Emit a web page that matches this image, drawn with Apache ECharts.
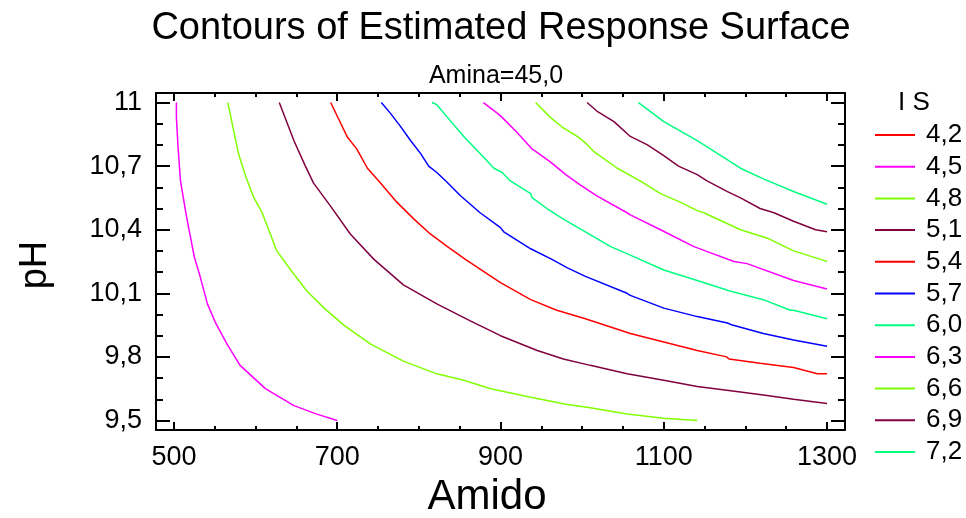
<!DOCTYPE html>
<html>
<head>
<meta charset="utf-8">
<script src="https://cdn.jsdelivr.net/npm/echarts@6/dist/echarts.min.js"></script>
<style>
html,body{margin:0;padding:0;background:#fff;}
#chart{width:966px;height:518px;}
</style>
</head>
<body>
<div id="chart"></div>
<script>
// ---- data ----
const levelNames = ['4,2','4,5','4,8','5,1','5,4','5,7','6,0','6,3','6,6','6,9','7,2'];
const levelColors = ['#ff0000','#ff00ff','#80ff00','#800040','#ff0000','#0000ff','#00ff80','#ff00ff','#80ff00','#800040','#00ff80'];

const xMajorTicks = [500,700,900,1100,1300];
const xMinorTicks = [550,600,650,750,800,850,950,1000,1050,1150,1200,1250];
const yMajorTicks = [9.5,9.8,10.1,10.4,10.7,11];
const yMinorTicks = [9.6,9.7,9.9,10.0,10.2,10.3,10.5,10.6,10.8,10.9];

const is42 = [];
const is45 = [[503,11.0],[503,10.93],[505,10.79],[508,10.63],[515,10.47],[520,10.37],[525,10.27],[532,10.18],[541,10.05],[551,9.96],[565,9.86],[581,9.76],[612,9.65],[647,9.57],[675,9.53],[700,9.5]];
const is48 = [[566,11.0],[573,10.87],[579,10.76],[588,10.65],[598,10.55],[608,10.48],[616,10.40],[626,10.30],[643,10.21],[663,10.11],[684,10.03],[708,9.95],[741,9.86],[781,9.78],[822,9.72],[855,9.69],[888,9.65],[937,9.61],[982,9.575],[1010,9.56],[1055,9.53],[1100,9.51],[1141,9.5]];
const is51 = [[629,11.0],[637,10.92],[647,10.82],[661,10.70],[671,10.62],[692,10.51],[716,10.38],[745,10.26],[781,10.14],[822,10.05],[863,9.97],[900,9.90],[945,9.83],[977,9.79],[1010,9.76],[1055,9.72],[1100,9.69],[1141,9.66],[1182,9.64],[1222,9.62],[1259,9.60],[1300,9.58]];
const is54 = [[692,11.0],[702,10.92],[712,10.84],[724,10.78],[737,10.69],[753,10.62],[773,10.53],[794,10.45],[814,10.38],[835,10.32],[857,10.26],[900,10.15],[937,10.07],[969,10.02],[1004,9.98],[1059,9.91],[1100,9.87],[1141,9.83],[1177,9.80],[1180,9.79],[1218,9.77],[1259,9.75],[1288,9.72],[1300,9.72]];
const is57 = [[754,11.0],[765,10.95],[777,10.89],[790,10.82],[802,10.76],[812,10.70],[822,10.67],[833,10.63],[851,10.56],[875,10.48],[900,10.41],[904,10.39],[937,10.31],[963,10.26],[982,10.22],[1004,10.18],[1055,10.10],[1059,10.09],[1100,10.03],[1141,9.99],[1178,9.96],[1184,9.95],[1222,9.91],[1259,9.88],[1300,9.85]];
const is60 = [[816,11.0],[822,10.99],[835,10.93],[855,10.84],[875,10.76],[892,10.69],[902,10.67],[912,10.63],[937,10.57],[939,10.55],[957,10.50],[977,10.45],[1004,10.39],[1035,10.32],[1059,10.28],[1100,10.21],[1141,10.16],[1182,10.11],[1222,10.07],[1255,10.02],[1259,10.02],[1300,9.98]];
const is63 = [[879,11.0],[896,10.95],[902,10.93],[920,10.86],[939,10.78],[943,10.77],[961,10.72],[980,10.66],[998,10.61],[1018,10.56],[1055,10.48],[1059,10.47],[1096,10.40],[1137,10.32],[1151,10.30],[1186,10.25],[1202,10.24],[1259,10.16],[1300,10.12]];
const is66 = [[943,11.0],[961,10.93],[977,10.88],[994,10.84],[1004,10.81],[1014,10.77],[1043,10.69],[1071,10.63],[1096,10.57],[1120,10.53],[1141,10.49],[1149,10.48],[1194,10.40],[1227,10.36],[1259,10.30],[1292,10.26],[1300,10.25]];
const is69 = [[1006,11.0],[1018,10.96],[1039,10.91],[1059,10.84],[1080,10.80],[1100,10.75],[1118,10.70],[1141,10.66],[1153,10.63],[1178,10.58],[1194,10.55],[1218,10.50],[1235,10.48],[1259,10.44],[1286,10.40],[1300,10.39]];
const is72 = [[1069,11.0],[1100,10.91],[1141,10.82],[1194,10.69],[1222,10.64],[1259,10.58],[1300,10.52]];

const levelData = [is42,is45,is48,is51,is54,is57,is60,is63,is66,is69,is72];

// ---- chart ----
const FONT = '"Liberation Sans", Arial, Helvetica, sans-serif';
const X_MIN = 478, X_MAX = 1322, Y_MIN = 9.455, Y_MAX = 11.045;
const blk = {color:'#000', width:2};

function xAx(pos, ticks, len, showLine, showLabel){
  return {
    type:'value', position:pos, min:X_MIN, max:X_MAX,
    axisLine:{show:showLine, onZero:false, lineStyle:blk},
    axisTick:{show:true, inside:true, length:len, customValues:ticks, lineStyle:blk},
    axisLabel:{show:showLabel, customValues:ticks, margin:14, color:'#000', fontSize:27, fontFamily:FONT,
      formatter: v => String(Math.round(v))},
    splitLine:{show:false}
  };
}
function yAx(pos, ticks, len, showLine, showLabel){
  return {
    type:'value', position:pos, min:Y_MIN, max:Y_MAX,
    axisLine:{show:showLine, onZero:false, lineStyle:blk},
    axisTick:{show:true, inside:true, length:len, customValues:ticks, lineStyle:blk},
    axisLabel:{show:showLabel, customValues:ticks, margin:14, color:'#000', fontSize:27, fontFamily:FONT,
      formatter: v => (Math.abs(v-Math.round(v))<1e-9 ? String(Math.round(v)) : v.toFixed(1).replace('.',','))},
    splitLine:{show:false}
  };
}

const chart = echarts.init(document.getElementById('chart'), null, {renderer:'canvas'});
chart.setOption({
  animation:false,
  backgroundColor:'#fff',
  color: levelColors,
  grid:{left:156, right:121, top:93, bottom:88, containLabel:false},
  xAxis:[
    xAx('bottom', xMajorTicks, 8, true, true),
    xAx('bottom', xMinorTicks, 4, false, false),
    xAx('top', xMajorTicks, 8, true, false),
    xAx('top', xMinorTicks, 4, false, false)
  ],
  yAxis:[
    yAx('left', yMajorTicks, 14, true, true),
    yAx('left', yMinorTicks, 7, false, false),
    yAx('right', yMajorTicks, 14, true, false),
    yAx('right', yMinorTicks, 7, false, false)
  ],
  legend:{
    orient:'vertical', left:870, top:117,
    icon:'rect', itemWidth:40, itemHeight:2, itemGap:5.7,
    selectedMode:false,
    textStyle:{fontSize:26, lineHeight:26, color:'#000', fontFamily:FONT, padding:[0,0,0,6]},
    data: levelNames
  },
  graphic:[
    {type:'text', x:501, y:29, style:{text:'Contours of Estimated Response Surface', font:'38px '+FONT, fill:'#000', textAlign:'center', textVerticalAlign:'middle'}},
    {type:'text', x:496, y:76, style:{text:'Amina=45,0', font:'25px '+FONT, fill:'#000', textAlign:'center', textVerticalAlign:'middle'}},
    {type:'text', x:487, y:497, style:{text:'Amido', font:'42px '+FONT, fill:'#000', textAlign:'center', textVerticalAlign:'middle'}},
    {type:'text', x:36, y:265, rotation:Math.PI/2, style:{text:'pH', font:'38px '+FONT, fill:'#000', textAlign:'center', textVerticalAlign:'middle'}},
    {type:'text', x:914, y:103, style:{text:'I S', font:'26px '+FONT, fill:'#000', textAlign:'center', textVerticalAlign:'middle'}}
  ],
  series: levelNames.map((n,i)=>({
    name:n, type:'line', xAxisIndex:0, yAxisIndex:0,
    data: levelData[i], symbol:'none', showSymbol:false, smooth:false,
    lineStyle:{width:1.5, color:levelColors[i]}, itemStyle:{color:levelColors[i]},
    silent:true
  }))
});
</script>
</body>
</html>
